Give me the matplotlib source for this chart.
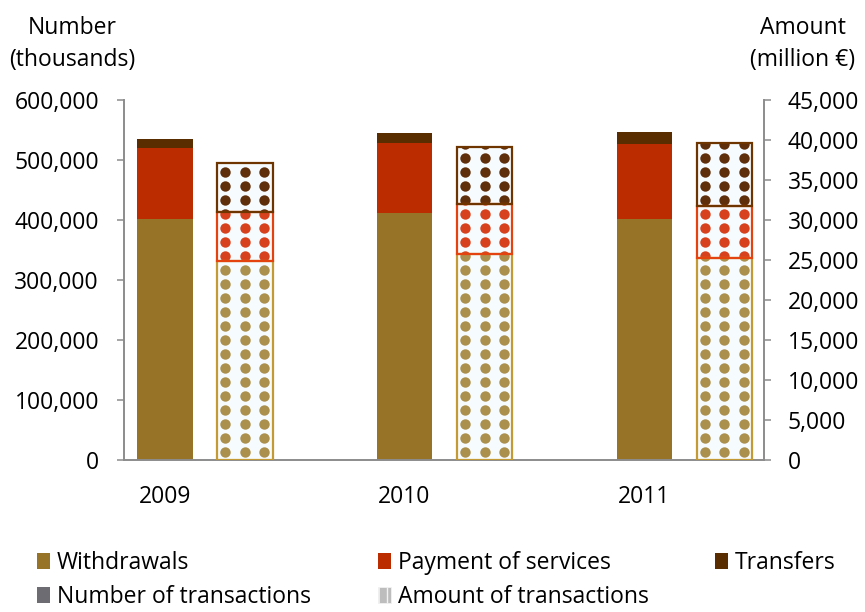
import numpy as np
import matplotlib
matplotlib.use("Agg")
import matplotlib.pyplot as plt
from matplotlib.patches import Patch

plt.rcParams['font.family'] = ['Open Sans', 'DejaVu Sans']
plt.rcParams['font.size'] = 16.5

# data
years = ['2009', '2010', '2011']
num_withdrawals = [401700, 411700, 403300]   # thousands
num_payments = [119500, 117800, 125000]
num_transfers = [15000, 16700, 18800]
amt_withdrawals = [24900, 25750, 25340]      # million EUR
amt_payments = [6170, 6250, 6450]
amt_transfers = [6130, 7160, 7840]

# colours
c_with, c_pay, c_tr = '#967326', '#bb2d00', '#5a2d00'
dot_cols = ['#ab8f4c', '#d8411d', '#5f2f0c']
edge_cols = ['#c49a34', '#e4420e', '#6e3500']
bg = '#f6fbfd'
grey = '#8c8c8c'

fig = plt.figure(figsize=(8.65, 6.12), dpi=100)
ax = fig.add_axes([0.1434, 0.2476, 0.7398, 0.5882])
ax2 = ax.twinx()

x = np.arange(len(years))
w = 0.233
off = 1 / 3

# number bars (left axis)
b1 = np.array(num_withdrawals)
b2 = b1 + np.array(num_payments)
ax.bar(x, num_withdrawals, w, color=c_with, zorder=2)
ax.bar(x, num_payments, w, bottom=b1, color=c_pay, zorder=2)
ax.bar(x, num_transfers, w, bottom=b2, color=c_tr, zorder=2)

# amount bars (right axis), dotted fill
row_step = 1750
col_off = 0.083
segs = [amt_withdrawals, amt_payments, amt_transfers]
bottoms = np.zeros(len(years))
for k, vals in enumerate(segs):
    for i in range(len(years)):
        xc = x[i] + off
        bot = bottoms[i]
        h = vals[i]
        rect = ax2.bar(xc, h, w, bottom=bot, color=bg, linewidth=0, zorder=2)[0]
        ys = np.arange(1000, bot + h + row_step, row_step)
        ys = ys[(ys > bot - row_step / 2) & (ys < bot + h + row_step / 2)]
        xs = xc + np.array([-1, 0, 1]) * col_off
        XX, YY = np.meshgrid(xs, ys)
        sc = ax2.scatter(XX.ravel(), YY.ravel(), s=56, color=dot_cols[k],
                         linewidths=0, zorder=3)
        sc.set_clip_path(rect)
        ax2.bar(xc, h, w, bottom=bot, fill=False, edgecolor=edge_cols[k],
                linewidth=1.6, zorder=4)
    bottoms = bottoms + np.array(vals)

ax.set_xlim(-0.169, 2.498)
ax.set_ylim(0, 600000)
ax2.set_ylim(0, 45000)
ax.set_yticks(np.arange(0, 600001, 100000))
ax2.set_yticks(np.arange(0, 45001, 5000))
ax.yaxis.set_major_formatter(matplotlib.ticker.FuncFormatter(lambda v, p: f'{int(v):,}'))
ax2.yaxis.set_major_formatter(matplotlib.ticker.FuncFormatter(lambda v, p: f'{int(v):,}'))
ax.set_xticks(x)
ax.set_xticklabels(years)

for a in (ax, ax2):
    for s in a.spines.values():
        s.set_visible(False)
ax.spines['left'].set_visible(True)
ax.spines['bottom'].set_visible(True)
ax2.spines['right'].set_visible(True)
for s in (ax.spines['left'], ax.spines['bottom'], ax2.spines['right']):
    s.set_color(grey)
    s.set_linewidth(1.4)

ax.tick_params(axis='y', direction='out', length=5, width=1.1, color=grey, pad=13)
ax2.tick_params(axis='y', direction='out', length=5, width=1.1, color=grey, pad=12)
ax.tick_params(axis='x', length=0, pad=18)

fig.text(0.084, 0.955, 'Number', ha='center', va='center')
fig.text(0.083, 0.902, '(thousands)', ha='center', va='center')
fig.text(0.928, 0.955, 'Amount', ha='center', va='center')
fig.text(0.928, 0.902, '(million €)', ha='center', va='center')

handles = [
    Patch(facecolor=c_with, label='Withdrawals'),
    Patch(facecolor='#6d6c73', label='Number of transactions'),
    Patch(facecolor=c_pay, label='Payment of services'),
    Patch(facecolor='#bdbdbd', edgecolor='#f2f2f2', hatch='||', linewidth=0.6,
          label='Amount of transactions'),
    Patch(facecolor=c_tr, label='Transfers'),
]
fig.legend(handles=handles, ncol=3, loc='upper left', bbox_to_anchor=(0.043, 0.1),
           frameon=False, borderpad=0, borderaxespad=0, handlelength=0.57,
           handleheight=0.7, handletextpad=0.3, columnspacing=2.9, labelspacing=0.46)

fig.savefig('out.png', dpi=100)
